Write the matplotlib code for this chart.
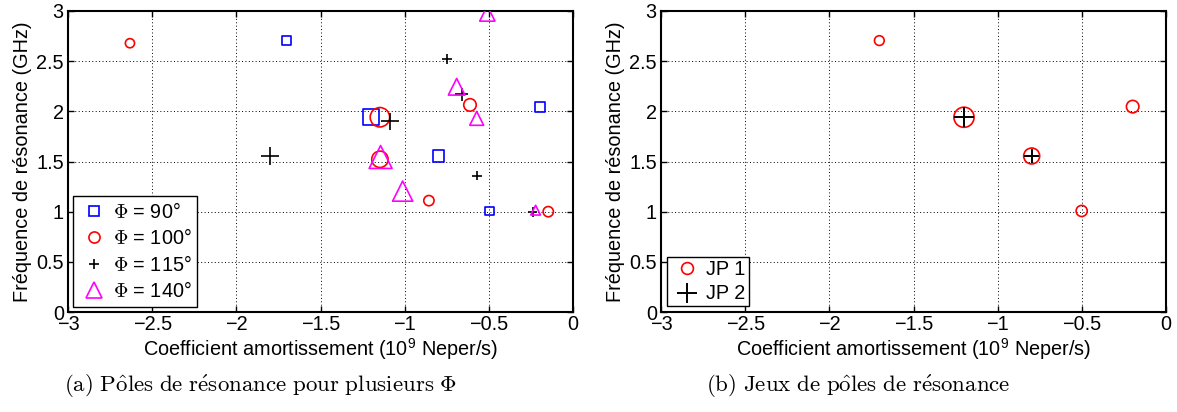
import matplotlib
matplotlib.use("Agg")
import matplotlib.pyplot as plt
from matplotlib.lines import Line2D

plt.rcParams['font.family'] = ['Liberation Sans', 'DejaVu Sans']
plt.rcParams['mathtext.fontset'] = 'cm'

# ---------------- data (panel a) ----------------
phi90_x = [-1.70, -1.20, -0.80, -0.196, -0.497]
phi90_y = [2.705, 1.941, 1.555, 2.04, 1.004]
phi100_x = [-2.632, -1.147, -0.612, -1.147, -0.856, -0.147]
phi100_y = [2.679, 1.941, 2.064, 1.522, 1.11, 1.0]
phi115_x = [-1.80, -0.75, -1.087, -0.661, -0.572, -0.24]
phi115_y = [1.555, 2.52, 1.90, 2.17, 1.36, 1.0]
phi140_x = [-0.509, -0.691, -0.572, -1.143, -1.012, -0.222]
phi140_y = [2.975, 2.245, 1.93, 1.545, 1.205, 1.015]
labels_a = [r'$\Phi$ = 90°', r'$\Phi$ = 100°', r'$\Phi$ = 115°', r'$\Phi$ = 140°']

# ---------------- data (panel b) ----------------
jp1_x = [-1.703, -1.200, -0.798, -0.198, -0.501]
jp1_y = [2.705, 1.941, 1.555, 2.047, 1.007]
jp2_x = [-1.200, -0.798]
jp2_y = [1.941, 1.555]
labels_b = ['JP 1', 'JP 2']

xticks = [-3, -2.5, -2, -1.5, -1, -0.5, 0]
xticklabels = ['\u22123', '\u22122.5', '\u22122', '\u22121.5', '\u22121', '\u22120.5', '0']
yticks = [0, 0.5, 1, 1.5, 2, 2.5, 3]
yticklabels = ['0', '0.5', '1', '1.5', '2', '2.5', '3']
xlabel = 'Coefficient amortissement (10$\\mathregular{^9}$ Neper/s)'
ylabel = 'Fréquence de résonance (GHz)'
captions = [r'$\mathrm{(a)\ P\hat{o}les\ de\ r\acute{e}sonance\ pour\ plusieurs\ }\Phi$',
            r'$\mathrm{(b)\ Jeux\ de\ p\hat{o}les\ de\ r\acute{e}sonance}$']

# ---------------- styles (marker sizes in points) ----------------
phi90_size = [6.6, 11.5, 8.2, 7.4, 6.0]
phi100_size = [6.6, 14.0, 9.0, 11.8, 7.4, 7.4]
phi115_size = [13.5, 7.5, 12.5, 9.0, 7.0, 7.0]
phi140_size = [11.0, 12.0, 10.0, 16.5, 14.5, 7.0]
jp1_size = [7.0, 14.5, 11.5, 9.0, 8.0]
jp2_size = [14.5, 10.5]

FS = 14.3
EW = 1.2

fig = plt.figure(figsize=(11.77, 4.12), dpi=100)
W, H = 1177, 412
ax1 = fig.add_axes([68 / W, 100 / H, 505 / W, 301 / H])
ax2 = fig.add_axes([661 / W, 100 / H, 505 / W, 301 / H])


def sc(ax, x, y, sizes, marker, color, lw=EW):
    s = [v ** 2 for v in sizes]
    if marker == '+':
        ax.scatter(x, y, s=s, marker=marker, c=color, linewidths=lw, zorder=3)
    else:
        ax.scatter(x, y, s=s, marker=marker, facecolors='none',
                   edgecolors=color, linewidths=lw, zorder=3)


sc(ax1, phi90_x, phi90_y, phi90_size, 's', 'blue')
sc(ax1, phi100_x, phi100_y, phi100_size, 'o', 'red')
sc(ax1, phi115_x, phi115_y, phi115_size, '+', 'black')
sc(ax1, phi140_x, phi140_y, phi140_size, '^', 'magenta')

sc(ax2, jp1_x, jp1_y, jp1_size, 'o', 'red')
sc(ax2, jp2_x, jp2_y, jp2_size, '+', 'black', lw=1.4)

for ax in [ax1, ax2]:
    ax.set_xlim(-3, 0)
    ax.set_ylim(0, 3)
    ax.set_xticks(xticks)
    ax.set_yticks(yticks)
    ax.set_xticklabels(xticklabels)
    ax.set_yticklabels(yticklabels)
    ax.tick_params(direction='in', top=True, right=True, length=4, width=1.0,
                   labelsize=FS, pad=3)
    ax.tick_params(axis='x', pad=2)
    ax.grid(True, linestyle=(0, (1, 2.5)), color='black', linewidth=0.7)
    ax.set_axisbelow(True)
    for sp in ax.spines.values():
        sp.set_linewidth(1.5)
    ax.set_xlabel(xlabel, fontsize=FS, labelpad=2)
    ax.set_ylabel(ylabel, fontsize=FS, labelpad=3)

# captions centred under each sub-figure
fig.text(261 / W, 1 - 386 / H, captions[0], ha='center', va='center', fontsize=16.5)
fig.text(858 / W, 1 - 386 / H, captions[1], ha='center', va='center', fontsize=16.5)

h_a = [
    Line2D([], [], marker='s', ls='none', mfc='none', mec='blue', ms=7.5, mew=EW),
    Line2D([], [], marker='o', ls='none', mfc='none', mec='red', ms=8, mew=EW),
    Line2D([], [], marker='+', ls='none', color='black', ms=7.5, mew=EW),
    Line2D([], [], marker='^', ls='none', mfc='none', mec='magenta', ms=12, mew=EW),
]
leg1 = ax1.legend(h_a, labels_a, loc='lower left', fontsize=FS, fancybox=False,
                  edgecolor='black', framealpha=1, borderaxespad=0.25,
                  handlelength=1.5, handletextpad=0.2, labelspacing=0.32,
                  borderpad=0.3)
leg1.get_frame().set_linewidth(1.0)

h_b = [
    Line2D([], [], marker='o', ls='none', mfc='none', mec='red', ms=8.5, mew=EW),
    Line2D([], [], marker='+', ls='none', color='black', ms=15, mew=1.4),
]
leg2 = ax2.legend(h_b, labels_b, loc='lower left', fontsize=FS, fancybox=False,
                  edgecolor='black', framealpha=1, borderaxespad=0.28,
                  handlelength=1.8, handletextpad=0.05, labelspacing=0.28,
                  borderpad=0.15)
leg2.get_frame().set_linewidth(1.0)

fig.savefig('out.png', dpi=100)
